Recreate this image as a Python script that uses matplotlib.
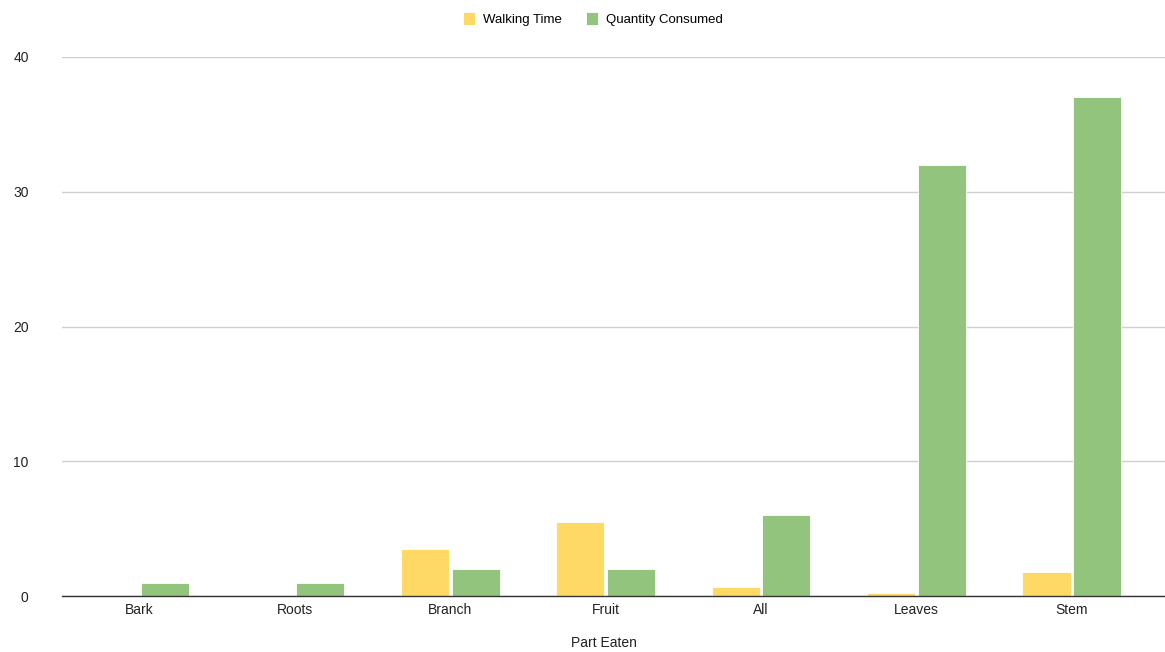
import matplotlib
matplotlib.use('Agg')
import matplotlib.pyplot as plt
import numpy as np

# Parts of the plant and the two measured series
parts = ['Bark', 'Roots', 'Branch', 'Fruit', 'All', 'Leaves', 'Stem']
walking_time = [0, 0, 3.5, 5.5, 0.65, 0.25, 1.75]
quantity_consumed = [1, 1, 2, 2, 6, 32, 37]
y_ticks = [0, 10, 20, 30, 40]

YELLOW = '#ffd966'
GREEN = '#93c47d'

plt.rcParams['font.family'] = ['Liberation Sans', 'DejaVu Sans']

fig = plt.figure(figsize=(11.65, 6.52), dpi=100)
ax = fig.add_axes([62 / 1165, 56 / 652, 1103 / 1165, 539 / 652])

x = np.arange(len(parts))
w = 0.31
off = 0.163
ax.bar(x - off, walking_time, w, color=YELLOW, edgecolor='white', linewidth=0.6,
       label='Walking Time', zorder=3)
ax.bar(x + off, quantity_consumed, w, color=GREEN, edgecolor='white', linewidth=0.6,
       label='Quantity Consumed', zorder=3)

ax.set_xlim(-0.5, 6.6)
ax.set_ylim(0, 40)
ax.set_yticks(y_ticks)
ax.set_xticks(x)
ax.set_xticklabels(parts)
ax.tick_params(axis='both', length=0, labelsize=10, colors='#222222')
ax.tick_params(axis='x', pad=5)
ax.tick_params(axis='y', pad=24)

ax.grid(axis='y', color='#d0d0d0', linewidth=1, zorder=0)
for s in ['top', 'right', 'left']:
    ax.spines[s].set_visible(False)
ax.spines['bottom'].set_color('#333333')
ax.spines['bottom'].set_linewidth(1)
ax.spines['bottom'].set_zorder(4)

ax.set_xlabel('Part Eaten', fontsize=10, color='#222222')
ax.xaxis.set_label_coords((604 - 62) / 1103, -0.074)
ax.xaxis.label.set_verticalalignment('top')

fig.legend(loc='upper center', bbox_to_anchor=(0.509, 1.0), ncol=2, frameon=False,
           fontsize=9.5, handlelength=0.95, handleheight=1.2, handletextpad=0.6,
           columnspacing=1.8)

fig.savefig('out.png', dpi=100)
